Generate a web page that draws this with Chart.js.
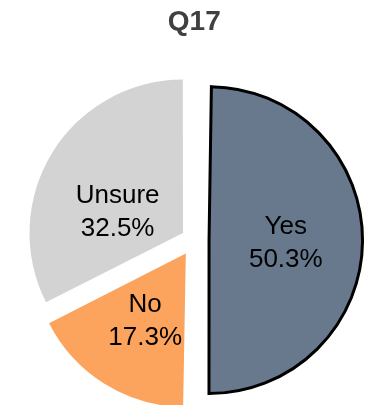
<!DOCTYPE html>
<html>
<head>
<meta charset="utf-8">
<script src="https://cdn.jsdelivr.net/npm/chart.js@4"></script>
<style>
  html, body { margin: 0; padding: 0; background: #fff; }
  #wrap { width: 375px; height: 405px; }
</style>
</head>
<body>
<div id="wrap"><canvas id="chart" width="375" height="405"></canvas></div>
<script>
const categories = ["Yes", "No", "Unsure"];
const percents = [50.3, 17.3, 32.5];
const sliceColors = ["#68798E", "#FCA35D", "#D3D3D3"];

// Chart.js grows an exploded half-pie slice by its offset; keep every slice the same size
const evenRadius = {
  id: "evenRadius",
  beforeDatasetsDraw(chart) {
    const meta = chart.getDatasetMeta(0);
    const base = meta.controller.outerRadius;
    meta.data.forEach(arc => {
      const shift = (arc.options.offset || 0) / 4;
      const fix = 1 - Math.sin(Math.min(Math.PI, arc.circumference));
      arc.outerRadius = base - shift * fix;
    });
  }
};

// draws "Label\nxx.x%" inside each slice
const sliceLabels = {
  id: "sliceLabels",
  afterDatasetsDraw(chart) {
    const ctx = chart.ctx;
    const meta = chart.getDatasetMeta(0);
    const base = meta.controller.outerRadius;
    ctx.save();
    ctx.font = "26px 'Liberation Sans', Arial, sans-serif";
    ctx.fillStyle = "#000";
    ctx.textAlign = "center";
    ctx.textBaseline = "middle";
    meta.data.forEach((arc, i) => {
      const mid = (arc.startAngle + arc.endAngle) / 2;
      const r = (arc.options.offset || 0) / 4 + base * 0.5;
      const x = arc.x + Math.cos(mid) * r;
      let y = arc.y + Math.sin(mid) * r + 3;
      if (categories[i] === "Unsure") y += 16;
      ctx.fillText(categories[i], x, y - 16.5);
      ctx.fillText(percents[i].toFixed(1) + "%", x, y + 16.5);
    });
    ctx.restore();
  }
};

new Chart(document.getElementById("chart"), {
  type: "pie",
  data: {
    labels: categories,
    datasets: [{
      data: percents,
      backgroundColor: sliceColors,
      borderColor: ["#000000", "#ffffff", "#ffffff"],
      borderWidth: [3, 0, 0],
      borderJoinStyle: "miter",
      offset: [59, 64, 53],
      radius: 153.5
    }]
  },
  options: {
    responsive: false,
    animation: false,
    events: [],
    layout: { padding: { left: 13.6, right: 0, top: 0, bottom: 0 } },
    plugins: {
      legend: { display: false },
      tooltip: { enabled: false },
      title: {
        display: true,
        text: "Q17",
        color: "#404040",
        font: { family: "'Liberation Sans', Arial, sans-serif", size: 28, weight: "bold" },
        padding: { top: 5, bottom: 36.4 }
      }
    }
  },
  plugins: [evenRadius, sliceLabels]
});
</script>
</body>
</html>
